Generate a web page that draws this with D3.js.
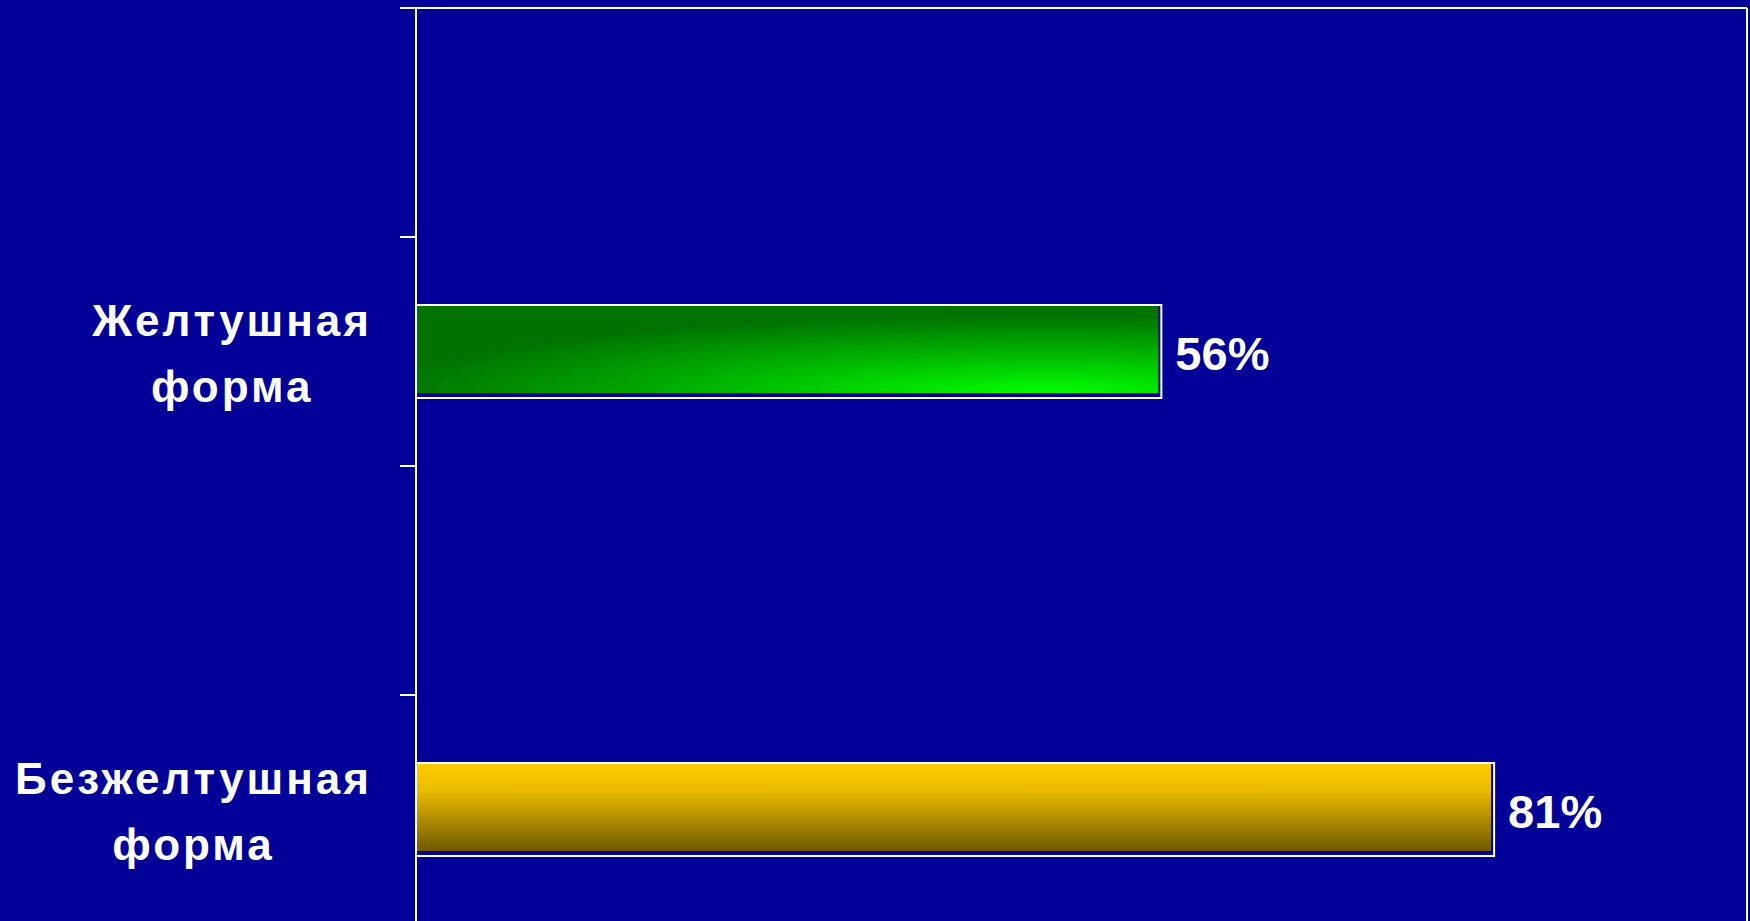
<!DOCTYPE html>
<html><head><meta charset="utf-8">
<script src="https://cdn.jsdelivr.net/npm/d3@7"></script>
<style>html,body{margin:0;padding:0;background:#000099;overflow:hidden}</style>
</head><body>
<svg id="chart" width="1750" height="921"></svg>
<script>
const categories = ["", "Желтушная\nформа", "", "Безжелтушная\nформа"];
const values = [null, 56, null, 81];
const valueLabels = ["", "56%", "", "81%"];
const barColors = ["", "green", "", "gold"];

const W = 1750, H = 921;
const svg = d3.select("#chart");
svg.append("rect").attr("width", W).attr("height", H).attr("fill", "#000099");

const defs = svg.append("defs");
const gG = defs.append("radialGradient").attr("id", "green").attr("cx", 0.85).attr("cy", 1).attr("r", 0.9).attr("fx", 0.85).attr("fy", 1);
gG.append("stop").attr("offset", 0).attr("stop-color", "#00ff00");
gG.append("stop").attr("offset", 0.6).attr("stop-color", "#00a800");
gG.append("stop").attr("offset", 1).attr("stop-color", "#007200");
const gY = defs.append("linearGradient").attr("id", "gold").attr("x1", 0).attr("y1", 0).attr("x2", 0).attr("y2", 1);
gY.append("stop").attr("offset", 0).attr("stop-color", "#ffcc00");
gY.append("stop").attr("offset", 0.3).attr("stop-color", "#eabb00");
gY.append("stop").attr("offset", 1).attr("stop-color", "#705a00");

const x = d3.scaleLinear().domain([0, 100]).range([416, 1747]);
const y = d3.scaleBand().domain(d3.range(categories.length)).range([8, 924]).padding(0);
const barH = 93;

// frame
svg.append("line").attr("x1", 400).attr("x2", x(100)).attr("y1", 8).attr("y2", 8).attr("stroke", "#fff").attr("stroke-width", 2);
svg.append("line").attr("x1", x(100)).attr("x2", x(100)).attr("y1", 8).attr("y2", H).attr("stroke", "#fff").attr("stroke-width", 2);

// bars
const idx = d3.range(categories.length).filter(i => values[i] != null);
const g = svg.append("g");
idx.forEach(i => {
  const cy = y(i) + y.bandwidth() / 2;
  const y0 = cy - barH / 2;
  const w = x(values[i]) - x(0);
  g.append("rect").attr("x", x(0)).attr("y", y0 + 1).attr("width", w - 3).attr("height", barH - 6)
    .attr("fill", "url(#" + barColors[i] + ")");
  g.append("path")
    .attr("d", `M${x(0)},${y0}H${x(values[i])}V${y0 + barH}H${x(0)}`)
    .attr("fill", "none").attr("stroke", "#fff").attr("stroke-width", 2);
  svg.append("text").attr("x", x(values[i]) + 14).attr("y", cy + 18)
    .attr("fill", "#fff").attr("font-family", "Liberation Sans, Arial, sans-serif")
    .attr("font-weight", "bold").attr("font-size", 47).text(valueLabels[i]);
});

// axis
svg.append("line").attr("x1", x(0)).attr("x2", x(0)).attr("y1", 8).attr("y2", H).attr("stroke", "#fff").attr("stroke-width", 2);
d3.range(categories.length).forEach(i => {
  svg.append("line").attr("x1", 400).attr("x2", x(0)).attr("y1", y(i)).attr("y2", y(i)).attr("stroke", "#fff").attr("stroke-width", 2);
});

// category labels
idx.forEach(i => {
  const lines = categories[i].split("\n");
  const cy = y(i) + y.bandwidth() / 2;
  const t = svg.append("text").attr("fill", "#fff").attr("font-family", "Liberation Sans, Arial, sans-serif")
    .attr("font-weight", "bold").attr("font-size", 44).attr("text-anchor", "middle").attr("letter-spacing", 3);
  const spans = lines.map((l, k) => t.append("tspan").attr("y", cy - 16 + k * 66).text(l));
  const maxW = d3.max(spans, s => s.node().getComputedTextLength());
  spans.forEach(s => s.attr("x", 372 - maxW / 2));
});
</script>
</body></html>
